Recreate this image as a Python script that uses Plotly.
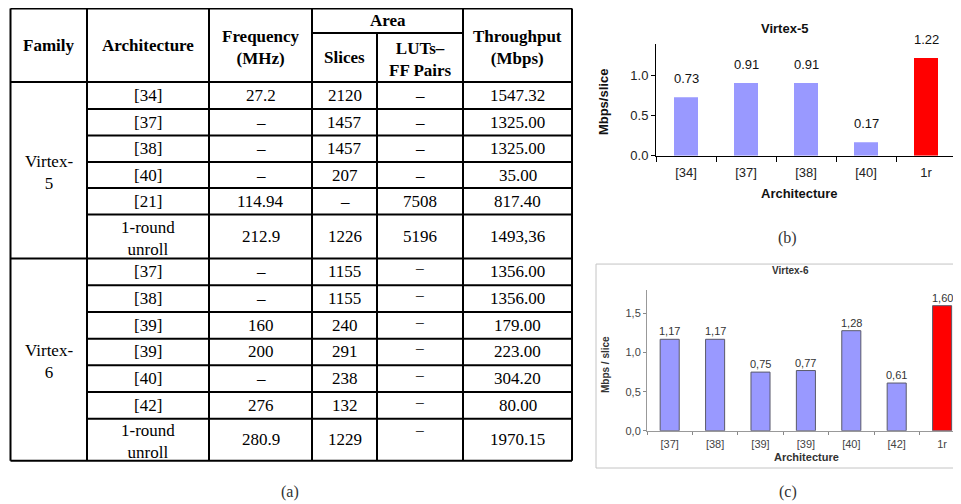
import plotly.graph_objects as go

# ---------------- data ----------------
families = ["Virtex-<br>5", "Virtex-<br>6"]
header_labels = ["Family", "Architecture", "Frequency<br>(MHz)", "Slices", "LUTs–<br>FF Pairs", "Throughput<br>(Mbps)"]
area_label = "Area"

v5_arch = ["[34]", "[37]", "[38]", "[40]", "[21]", "1-round<br>unroll"]
v5_freq = ["27.2", "–", "–", "–", "114.94", "212.9"]
v5_slices = ["2120", "1457", "1457", "207", "–", "1226"]
v5_luts = ["–", "–", "–", "–", "7508", "5196"]
v5_thr = ["1547.32", "1325.00", "1325.00", "35.00", "817.40", "1493,36"]

v6_arch = ["[37]", "[38]", "[39]", "[39]", "[40]", "[42]", "1-round<br>unroll"]
v6_freq = ["–", "–", "160", "200", "–", "276", "280.9"]
v6_slices = ["1155", "1155", "240", "291", "238", "132", "1229"]
v6_luts = ["−", "−", "−", "−", "−", "−", "−"]
v6_thr = ["1356.00", "1356.00", "179.00", "223.00", "304.20", "80.00", "1970.15"]

v5_cats = ["[34]", "[37]", "[38]", "[40]", "1r"]
v5_vals = [0.73, 0.91, 0.91, 0.17, 1.22]
v5_colors = ["#9999FF", "#9999FF", "#9999FF", "#9999FF", "#FF0000"]

v6_cats = ["[37]", "[38]", "[39]", "[39]", "[40]", "[42]", "1r"]
v6_vals = [1.17, 1.17, 0.75, 0.77, 1.28, 0.61, 1.60]
v6_colors = ["#9999FF", "#9999FF", "#9999FF", "#9999FF", "#9999FF", "#9999FF", "#FF0000"]

v5_yticks = [0.0, 0.5, 1.0]
v6_yticks = [0.0, 0.5, 1.0, 1.5]
v6_yticktext = ["0,0", "0,5", "1,0", "1,5"]

# ---------------- layout helpers (screen pixel -> paper) ----------------
OFF = 8          # default page body margin
SY = 512 / 504   # vertical compensation
W, H = 961 - OFF, 504
def px(x):
    return (x - OFF) / W
def py(y):
    return 1 - (y * SY - OFF) / H

SERIF = "Liberation Serif, Times New Roman, serif"
SANS = "Liberation Sans, Arial, sans-serif"

fig = go.Figure()

# ---------------- chart (b) ----------------
fig.add_trace(go.Bar(
    x=list(range(len(v5_cats))), y=v5_vals, width=0.4,
    marker=dict(color=v5_colors, line=dict(width=0)),
    xaxis="x", yaxis="y", showlegend=False, hoverinfo="skip"))

# ---------------- chart (c) ----------------
fig.add_trace(go.Bar(
    x=list(range(len(v6_cats))), y=v6_vals, width=0.42,
    marker=dict(color=v6_colors, line=dict(width=1, color="#5a5a6a")),
    xaxis="x2", yaxis="y2", showlegend=False, hoverinfo="skip"))

annotations = []
shapes = []

for i, v in enumerate(v5_vals):
    annotations.append(dict(x=i, y=v, xref="x", yref="y", text=f"{v:.2f}",
                            showarrow=False, yanchor="bottom", yshift=9,
                            font=dict(family=SANS, size=13, color="#111")))
for i, v in enumerate(v6_vals):
    annotations.append(dict(x=i, y=v, xref="x2", yref="y2", text=f"{v:.2f}".replace(".", ","),
                            showarrow=False, yanchor="bottom", yshift=0,
                            font=dict(family=SANS, size=11, color="#333")))

def ann_px(x, y, text, size, family, color="#000", bold=False, angle=0, xanchor="center", yanchor="middle"):
    if "<br>" in text and yanchor == "middle":
        y += 2
    t = f"<b>{text}</b>" if bold else text
    annotations.append(dict(x=px(x), y=py(y), xref="paper", yref="paper", text=t,
                            showarrow=False, xanchor=xanchor, yanchor=yanchor, textangle=angle,
                            font=dict(family=family, size=size, color=color)))

# chart (b) titles
ann_px(784, 28, "Virtex-5", 13, SANS, "#111", bold=True)
ann_px(799, 193, "Architecture", 13, SANS, "#111", bold=True)
ann_px(603, 102, "Mbps/slice", 13, SANS, "#111", bold=True, angle=-90)
ann_px(787, 238, "(b)", 16, SERIF, "#333")

# chart (c) titles
ann_px(790, 270, "Virtex-6", 10, SANS, "#333", bold=True)
ann_px(806, 457, "Architecture", 11, SANS, "#333", bold=True)
ann_px(605, 365, "Mbps / slice", 10, SANS, "#333", bold=True, angle=-90)
ann_px(788, 492, "(c)", 16, SERIF, "#333")
shapes.append(dict(type="rect", xref="paper", yref="paper", x0=px(596), x1=px(961.5),
                   y0=py(468), y1=py(264), line=dict(color="#c4c4c4", width=1)))

# ---------------- table (a) ----------------
col_edges = [10.5, 87, 209, 312, 377, 463, 572]
top, area_split, head_bot = 8.5, 33, 82
v5_heights = [27, 26.5, 26.5, 26, 26.5, 44]
v6_heights = [26.7, 26.7, 26.7, 26.7, 26.7, 26.7, 42]
LW = 2

def hline(y, x0, x1):
    shapes.append(dict(type="line", xref="paper", yref="paper", x0=px(x0), x1=px(x1),
                       y0=py(y), y1=py(y), line=dict(color="black", width=LW)))
def vline(x, y0, y1):
    shapes.append(dict(type="line", xref="paper", yref="paper", x0=px(x), x1=px(x),
                       y0=py(y0), y1=py(y1), line=dict(color="black", width=LW)))

def cx(c):
    return (col_edges[c] + col_edges[c + 1]) / 2

# header
for c, lab in enumerate(header_labels):
    if c in (3, 4):
        ann_px(cx(c), (area_split + head_bot) / 2, lab, 17, SERIF, bold=True)
    else:
        ann_px(cx(c), (top + head_bot) / 2, lab, 17, SERIF, bold=True)
ann_px((col_edges[3] + col_edges[5]) / 2, (top + area_split) / 2, area_label, 17, SERIF, bold=True)

blocks = [
    (families[0], v5_heights, [v5_arch, v5_freq, v5_slices, v5_luts, v5_thr]),
    (families[1], v6_heights, [v6_arch, v6_freq, v6_slices, v6_luts, v6_thr]),
]
y = head_bot
bottom = head_bot + sum(v5_heights) + sum(v6_heights)
for bi, (fam, heights, cols) in enumerate(blocks):
    y_start = y
    for r, h in enumerate(heights):
        yc = y + h / 2
        for c, colvals in enumerate(cols):
            txt = colvals[r]
            if bi == 1 and c == 3 and r == len(heights) - 1:
                ann_px(cx(c + 1), y + 1, txt, 17, SERIF, yanchor="top")
            else:
                ann_px(cx(c + 1), yc - (2 if (bi == 1 and c == 3) else 0), txt, 17, SERIF)
        y += h
        if r < len(heights) - 1:
            hline(y, col_edges[1], col_edges[-1])
    ann_px(cx(0), (y_start + y) / 2, fam, 17, SERIF)
    if bi == 0:
        hline(y, col_edges[0], col_edges[-1])

# table frame
hline(top, col_edges[0], col_edges[-1])
hline(bottom, col_edges[0], col_edges[-1])
hline(head_bot, col_edges[0], col_edges[-1])
hline(area_split, col_edges[3], col_edges[5])
for ci in (0, 1, 2, 3, 5, 6):
    vline(col_edges[ci], top, bottom)
vline(col_edges[4], area_split, bottom)
ann_px(290, 492, "(a)", 16, SERIF, "#333")

# ---------------- axes ----------------
fig.update_layout(
    width=W, height=H, margin=dict(l=0, r=0, t=0, b=0),
    paper_bgcolor="white", plot_bgcolor="rgba(0,0,0,0)",
    xaxis=dict(domain=[px(656), px(956)], range=[-0.5, len(v5_cats) - 0.5], anchor="y",
               tickmode="array", tickvals=list(range(len(v5_cats))), ticktext=v5_cats,
               ticks="outside", ticklen=5, tickcolor="rgba(0,0,0,0)",
               minor=dict(tickmode="array", tickvals=[i - 0.5 for i in range(len(v5_cats) + 1)],
                          ticks="outside", ticklen=5, tickcolor="black", showgrid=False),
               showline=True, linecolor="black", linewidth=1, showgrid=False, zeroline=False,
               tickfont=dict(family=SANS, size=13, color="#222"), fixedrange=True),
    yaxis=dict(domain=[py(155.7), py(43.5)], range=[0, 1.4], anchor="x",
               tickmode="array", tickvals=v5_yticks, tickformat=".1f",
               ticks="outside", ticklen=4, tickcolor="black",
               showline=True, linecolor="black", linewidth=1, showgrid=False, zeroline=False,
               tickfont=dict(family=SANS, size=13, color="#222"), fixedrange=True),
    xaxis2=dict(domain=[px(647), 1.0], range=[-0.5, -0.5 + (961 - 647) / 45.4], anchor="y2",
                tickmode="array", tickvals=list(range(len(v6_cats))), ticktext=v6_cats,
                ticks="outside", ticklen=3, tickcolor="rgba(0,0,0,0)",
                minor=dict(tickmode="array", tickvals=[i - 0.5 for i in range(len(v6_cats) + 1)],
                           ticks="outside", ticklen=3, tickcolor="#888", showgrid=False),
                showline=True, linecolor="#999", linewidth=1, showgrid=False, zeroline=False,
                tickfont=dict(family=SANS, size=11, color="#444"), fixedrange=True),
    yaxis2=dict(domain=[py(430.7), py(290)], range=[0, 1.8], anchor="x2",
                tickmode="array", tickvals=v6_yticks, ticktext=v6_yticktext,
                ticks="outside", ticklen=3, tickcolor="#888",
                showline=True, linecolor="#999", linewidth=1, showgrid=False, zeroline=False,
                tickfont=dict(family=SANS, size=11, color="#444"), fixedrange=True),
    annotations=annotations, shapes=shapes,
)

fig.write_html("out.html")
